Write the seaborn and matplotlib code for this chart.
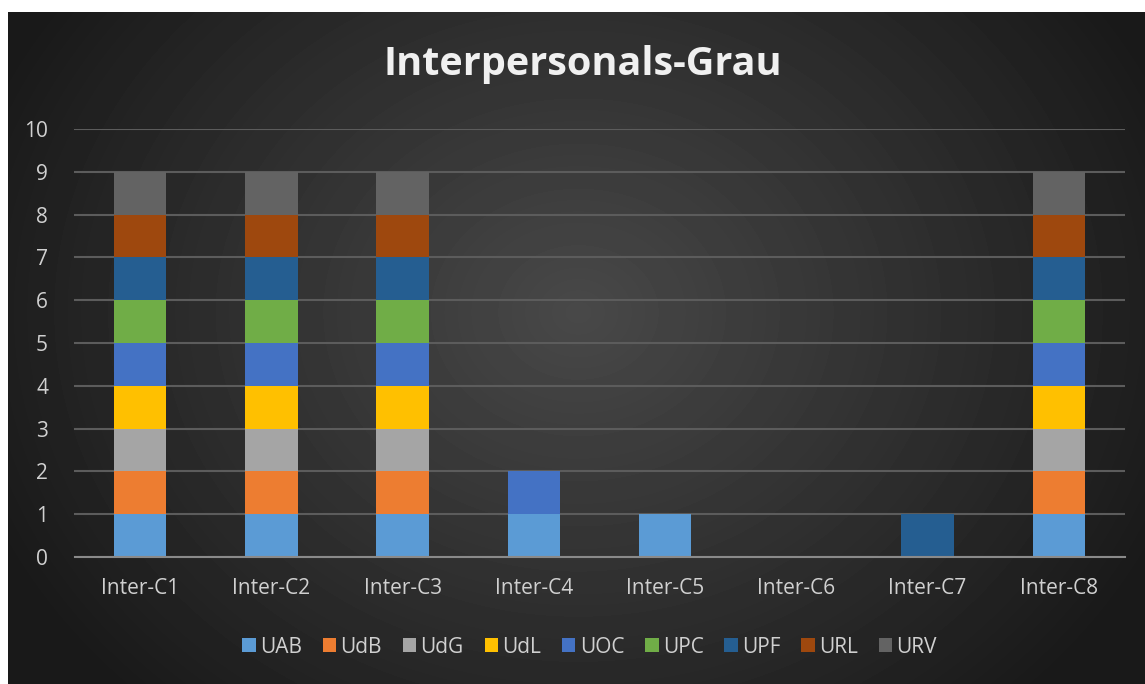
import numpy as np
import matplotlib
matplotlib.use("Agg")
import matplotlib.pyplot as plt
import seaborn as sns

# Dades
categories = ["Inter-C1", "Inter-C2", "Inter-C3", "Inter-C4",
              "Inter-C5", "Inter-C6", "Inter-C7", "Inter-C8"]
universities = ["UAB", "UdB", "UdG", "UdL", "UOC", "UPC", "UPF", "URL", "URV"]
uab = [1, 1, 1, 1, 1, 0, 0, 1]
udb = [1, 1, 1, 0, 0, 0, 0, 1]
udg = [1, 1, 1, 0, 0, 0, 0, 1]
udl = [1, 1, 1, 0, 0, 0, 0, 1]
uoc = [1, 1, 1, 1, 0, 0, 0, 1]
upc = [1, 1, 1, 0, 0, 0, 0, 1]
upf = [1, 1, 1, 0, 0, 0, 1, 1]
url = [1, 1, 1, 0, 0, 0, 0, 1]
urv = [1, 1, 1, 0, 0, 0, 0, 1]
series = [uab, udb, udg, udl, uoc, upc, upf, url, urv]
colors = ["#5B9BD5", "#ED7D31", "#A5A5A5", "#FFC000", "#4472C4",
          "#70AD47", "#255E91", "#9E480E", "#636363"]

sns.set_style("dark")
plt.rcParams["font.family"] = ["Open Sans", "DejaVu Sans"]

fig = plt.figure(figsize=(11.45, 6.84), dpi=100)
fig.patch.set_facecolor("white")

# fons amb degradat radial
bg = fig.add_axes([8 / 1145, 0, 1 - 8 / 1145, 672 / 684])
yy, xx = np.mgrid[0:672, 0:1137]
d = np.sqrt(((xx - 570) / 620) ** 2 + ((yy - 300) / 520) ** 2)
shade = np.clip(0.285 - 0.18 * d, 0.1, 0.3)
bg.imshow(shade, cmap="gray", vmin=0, vmax=1, aspect="auto", interpolation="bilinear")
bg.axis("off")

ax = fig.add_axes([74.5 / 1145, 127 / 684, 1050 / 1145, 428 / 684])
ax.patch.set_alpha(0)

bottom = np.zeros(len(categories))
for name, vals, c in zip(universities, series, colors):
    sns.barplot(x=categories, y=vals, bottom=bottom, color=c, width=0.4,
                ax=ax, label=name, saturation=1, linewidth=0)
    bottom += np.array(vals)

ax.set_ylim(0, 10)
ax.set_xlim(-0.5, len(categories) - 0.5)
ax.set_yticks(range(0, 11))
ax.yaxis.grid(True, color="#5c5c5c", linewidth=1.5)
ax.xaxis.grid(False)
ax.set_axisbelow(True)
for s in ["top", "right", "left"]:
    ax.spines[s].set_visible(False)
ax.spines["bottom"].set_color("#8a8a8a")
ax.spines["bottom"].set_linewidth(1.5)
ax.tick_params(axis="both", length=0, colors="#d0d0d0")
ax.tick_params(axis="x", pad=15, labelsize=15)
ax.tick_params(axis="y", pad=19, labelsize=15)
ax.set_xlabel("")
ax.set_ylabel("")
ax.legend().remove()

fig.text(0.509, 0.905, "Interpersonals-Grau", ha="center", va="center",
         fontsize=28.5, fontweight="bold", color="#f0f0f0")

handles, labels = ax.get_legend_handles_labels()
fig.legend(handles, labels, loc="center", bbox_to_anchor=(0.515, 0.054), ncol=9,
           frameon=False, fontsize=15, labelcolor="#d0d0d0", handlelength=0.65,
           handleheight=0.65, handletextpad=0.2, columnspacing=1.0)

fig.savefig("out.png", dpi=100)
